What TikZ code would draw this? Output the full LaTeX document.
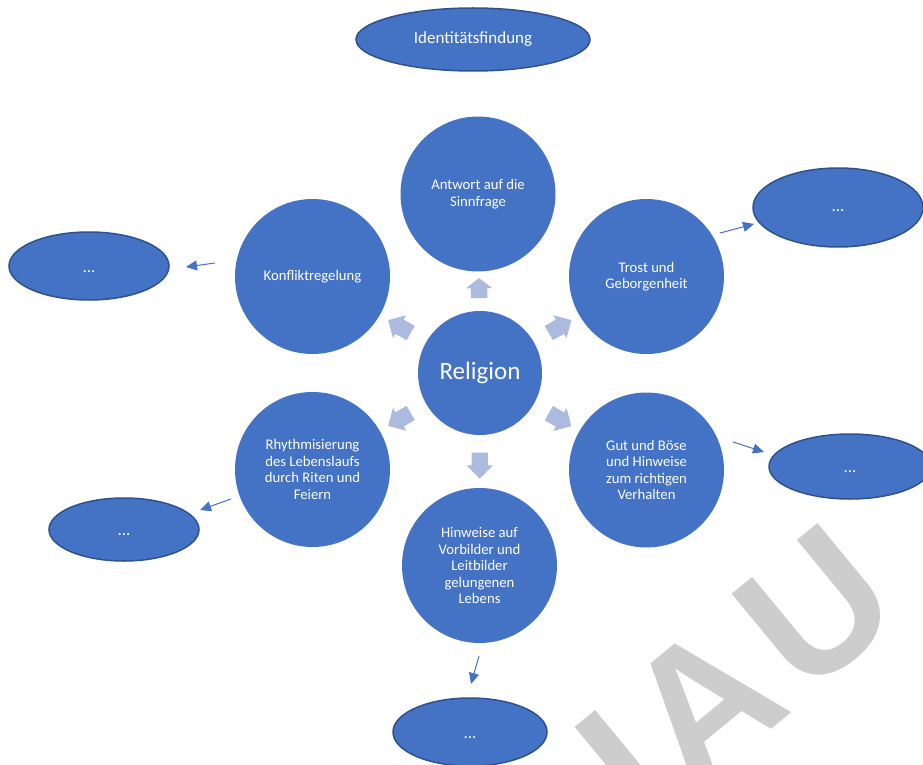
\documentclass[tikz,border=0pt]{standalone}
\usepackage{fontspec}
\setmainfont{Carlito}
\newfontfamily\wmfont{Liberation Sans}
\usetikzlibrary{shapes.geometric,shapes.arrows,arrows.meta,calc}
\definecolor{sablue}{RGB}{68,114,196}
\definecolor{saedge}{RGB}{47,82,143}
\definecolor{salight}{RGB}{171,186,222}
\definecolor{wmgray}{RGB}{205,205,205}
\begin{document}
\begin{tikzpicture}[x=1pt,y=-1pt,
  bigc/.style={circle, fill=sablue, text=white, inner sep=0pt, minimum size=155pt, align=center, font=\fontsize{14.7}{16.5}\selectfont},
  relc/.style={circle, fill=sablue, text=white, inner sep=0pt, minimum size=124pt, font=\fontsize{25}{30}\selectfont},
  ell/.style={ellipse, fill=sablue, draw=saedge, line width=1.5pt, text=white, inner sep=0pt, font=\fontsize{17}{20}\selectfont},
  dots/.style={text height=13pt, text depth=1pt},
  blk/.style={single arrow, fill=salight, draw=none, sloped, allow upside down, inner xsep=0pt, inner ysep=8pt, minimum width=26pt, single arrow head extend=5pt, single arrow head indent=0pt, pos=0.5},
  smallarrow/.style={draw=sablue, line width=1pt, -{Triangle[length=11pt,width=10pt]}},
  wm/.style={text=wmgray, inner sep=0pt, font=\wmfont\bfseries\fontsize{185}{185}\selectfont, rotate=39.5, anchor=base}
]
\useasboundingbox (0,0) rectangle (923,765);
\fill[white] (0,0) rectangle (923,765);
% watermark
\begin{scope}
\clip (0,0) rectangle (923,765);
\node[wm] (wmi) at (666,817) {I};
\node[wm] (wma) at (744.3,752.3) {A};
\node[wm] (wmu) at (856.5,657.3) {U};
\end{scope}
% top ellipse
\node[ell, minimum width=234pt, minimum height=63pt] (ident) at (473,39.5) {Identitätsfindung};
% circles
\node[relc] (rel) at (480,373) {Religion};
\node[bigc] (ans) at (478,194) {Antwort auf die\\Sinnfrage};
\node[bigc] (konf) at (312.5,276.5) {Konfliktregelung};
\node[bigc] (trost) at (646.5,276.5) {Trost und\\Geborgenheit};
\node[bigc] (rhy) at (312.5,469.5) {Rhythmisierung\\des Lebenslaufs\\durch Riten und\\Feiern};
\node[bigc] (gut) at (646.5,470) {Gut und Böse\\und Hinweise\\zum richtigen\\Verhalten};
\node[bigc] (vor) at (479.5,565.5) {Hinweise auf\\Vorbilder und\\Leitbilder\\gelungenen\\Lebens};
% block arrows
\path (rel) -- node[blk, minimum height=20pt, single arrow tip angle=105] {} (ans);
\path (rel) -- node[blk, minimum height=26pt] {} (konf);
\path (rel) -- node[blk, minimum height=26pt] {} (trost);
\path (rel) -- node[blk, minimum height=26pt] {} (rhy);
\path (rel) -- node[blk, minimum height=26pt] {} (gut);
\path (rel) -- node[blk, minimum height=26pt] {} (vor);
% outer ellipses
\node[ell, minimum width=170pt, minimum height=79pt, text height=8pt, text depth=1pt] (eur) at (838,207.5) {...};
\node[ell, dots, minimum width=160pt, minimum height=68pt] (el) at (89,266) {...};
\node[ell, dots, minimum width=162pt, minimum height=65pt] (er) at (850,466.5) {...};
\node[ell, dots, minimum width=150pt, minimum height=63pt] (ell) at (124,529.5) {...};
\node[ell, dots, minimum width=154pt, minimum height=68pt] (eb) at (470,732) {...};
% small arrows
\coordinate (a1s) at (215,263); \coordinate (a1e) at (186,267);
\coordinate (a2s) at (720,233); \coordinate (a2e) at (754,224);
\coordinate (a3s) at (733,442); \coordinate (a3e) at (764,452);
\coordinate (a4s) at (231,499); \coordinate (a4e) at (200,510);
\coordinate (a5s) at (479,656); \coordinate (a5e) at (471,684);
\draw[smallarrow] (a1s) -- (a1e);
\draw[smallarrow] (a2s) -- (a2e);
\draw[smallarrow] (a3s) -- (a3e);
\draw[smallarrow] (a4s) -- (a4e);
\draw[smallarrow] (a5s) -- (a5e);
\end{tikzpicture}
\end{document}
